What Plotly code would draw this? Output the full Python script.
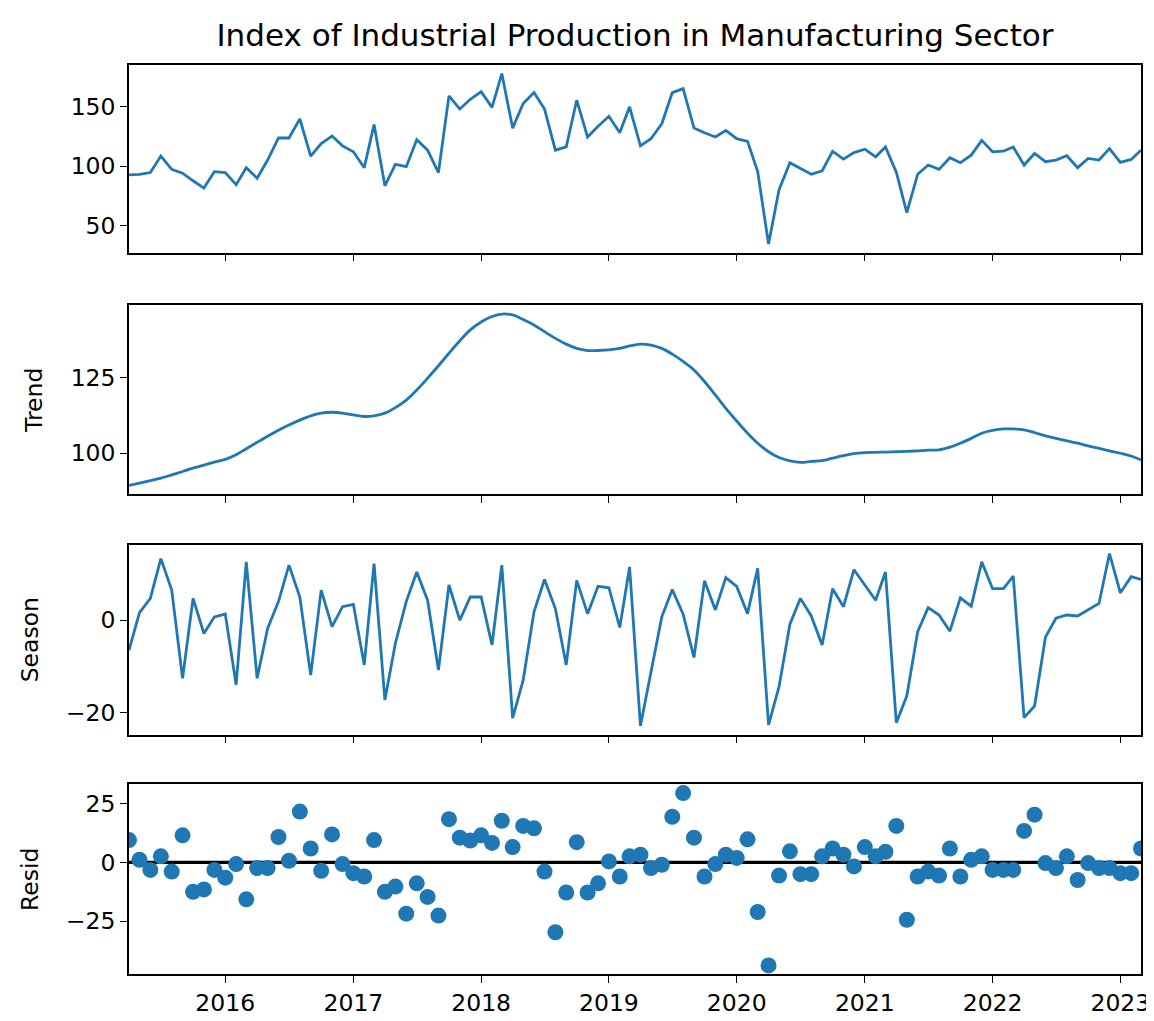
import pandas as pd
import numpy as np
import plotly.graph_objects as go

# ---- data (monthly, Apr 2015 .. Mar 2023) ----
start_month = "2015-04-01"
n_months = 96
dates = pd.date_range(start_month, periods=n_months, freq="MS")

observed = [92.5, 93, 94.5, 108.3, 97.2, 94, 87.6, 81.5, 95.3, 94.5, 84.3, 98.6, 89.8, 105, 123.5, 123.5,
            139.5, 108.3, 118.8, 125.1, 116.9, 111.9, 98.6, 134.8, 83.4,
            101.4, 99.4, 122.1, 113.3, 94.5, 158.8, 147.8, 156, 162.4, 149.2, 177.6, 131.8, 152.5, 161.6,
            147.8, 113.3, 116, 155.2, 124.3, 133.4, 141.7, 127.9, 149.7, 116.9, 122.9,
            135.4, 161.6, 164.9, 131.8, 127.9, 124.3, 129.8, 122.9, 120.7, 95.3, 34.5, 80.1, 102.8, 98.1,
            93.1, 95.9, 112.4, 105.8, 111.3, 114.1, 107.7, 116, 94.8, 60.8, 93.1,
            100.8, 97.2, 106.9, 102.8, 109.1, 121.5, 111.9, 112.4, 116, 100.8, 110.5, 103.6, 105, 108.6,
            98.6, 106.4, 105, 114.6, 103, 105.5, 113.3]

trend = [89.4, 90.2, 91.0, 91.8, 92.9, 94.0, 95.1, 96.1, 97.1, 98.0, 99.5, 101.5, 103.6, 105.6, 107.6,
         109.3, 110.9, 112.3, 113.2, 113.5, 113.2, 112.6, 112.1, 112.3, 113.2, 115.0, 117.5, 120.8,
         124.7, 128.8, 132.9, 137.0, 140.6, 143.2, 145.0, 145.8, 145.5, 144.0, 142.2, 140.0, 137.8,
         135.9, 134.5, 133.8, 133.8, 134.0, 134.5, 135.3, 135.9, 135.6, 134.5, 132.6, 130.2, 127.4,
         123.6, 119.2, 114.8, 110.6, 106.6, 103.3, 100.5, 98.6, 97.5, 97.0, 97.3, 97.6, 98.4, 99.2,
         99.9, 100.2, 100.3, 100.4, 100.5, 100.6, 100.8, 101.0, 101.1, 102.0, 103.3, 104.9, 106.6,
         107.5, 108.0, 108.0, 107.7, 106.8, 105.7, 104.9, 104.1, 103.3, 102.4, 101.6, 100.8, 100.0,
         99.1, 97.8]

season = [-6.5, 1.6, 4.7, 13.3, 6.5, -12.6, 4.7, -2.9, 0.7, 1.3, -14, 12.6, -12.6, -1.8, 4, 11.9, 5,
          -11.9, 6.5, -1.4, 2.9, 3.4, -9.7, 12.2, -17.3, -5, 4, 10.4, 4.3, -10.8, 7.6, 0, 5, 5, -5.4,
          11.9, -21.2, -13, 1.8, 8.8, 2.5, -9.7, 8.6, 1.4, 7.3, 7, -1.6, 11.5, -22.9, -11.2, 0.7, 6.6,
          1.3, -8.1, 8.5, 2.2, 9.2, 7.3, 1.4, 11.2, -22.7, -14.4, -0.9, 4.7, 0.9, -5.4, 6.8, 2.9, 10.9,
          7.6, 4.3, 10.4, -22.2, -16.4, -2.5, 2.7, 1.1, -2.4, 4.8, 3, 12.6, 6.8, 6.8, 9.5, -21.1, -18.6,
          -3.7, 0.4, 1.1, 0.9, 2.2, 3.6, 14.4, 5.9, 9.4, 8.8]

resid = [9.5, 1.1, -3.2, 2.6, -3.9, 11.5, -12.5, -11.5, -3.2, -6.5, -0.7, -15.7, -2.4, -2.4, 10.8, 0.7,
         21.6, 5.9, -3.6, 11.9, -0.7, -4.6, -6, 9.5, -12.5, -10.3, -21.8, -8.9, -14.7, -22.6, 18.4,
         10.5, 9.3, 11.5, 8.3, 17.7, 6.5, 15.5, 14.5, -3.9, -29.7, -12.8, 8.6, -12.8, -8.9, 0.4, -6,
         2.6, 3.3, -2.4, -1, 19.4, 29.5, 10.5, -6, -0.7, 3.3, 1.9, 9.8, -21.1, -43.8, -5.6, 4.7, -5,
         -5, 2.6, 5.9, 3.3, -1.7, 6.5, 2.6, 4.5, 15.5, -24.4, -6, -3.9, -5.6, 5.9, -6, 1.1, 2.6, -3.2,
         -3.2, -3.2, 13.4, 20.3, -0.3, -2.4, 2.6, -7.5, -0.3, -2.4, -2.4, -4.6, -4.6, 5.9]

year_ticks = ["2016", "2017", "2018", "2019", "2020", "2021", "2022", "2023"]
panel_labels = ["", "Trend", "Season", "Resid"]
panel_dticks = [50, 25, 20, 25]
title_text = "Index of Industrial Production in Manufacturing Sector"

# ---- styling ----
BLUE = "#1f77b4"
FONT = "DejaVu Sans"
TICK_SIZE = 23.5
TITLE_SIZE = 31
W, H = 1154, 1021
m_l, m_r, m_t, m_b = 121, 18, 57, 53
plot_h = H - m_t - m_b
# panel pixel extents (top, bottom) in figure pixels
panels_px = [(57, 245), (298, 487), (538, 728), (778, 968)]
domains = [[(H - m_b - b) / plot_h, (H - m_b - t) / plot_h] for (t, b) in panels_px]


def padded(vals):
    lo, hi = float(np.min(vals)), float(np.max(vals))
    pad = 0.05 * (hi - lo)
    return [lo - pad, hi + pad]


fig = go.Figure()
series = [observed, trend, season, resid]
for k, vals in enumerate(series):
    xa = "x" if k == 0 else f"x{k+1}"
    ya = "y" if k == 0 else f"y{k+1}"
    if k < 3:
        shape = "spline" if k == 1 else "linear"
        fig.add_trace(go.Scatter(x=dates, y=vals, mode="lines",
                                 line=dict(color=BLUE, width=2.8, shape=shape),
                                 xaxis=xa, yaxis=ya, showlegend=False))
    else:
        fig.add_trace(go.Scatter(x=[dates[0], dates[-1]], y=[0, 0], mode="lines",
                                 line=dict(color="black", width=3.2),
                                 xaxis=xa, yaxis=ya, showlegend=False))
        fig.add_trace(go.Scatter(x=dates, y=vals, mode="markers",
                                 marker=dict(color=BLUE, size=16, line=dict(width=0)),
                                 xaxis=xa, yaxis=ya, showlegend=False))

tickvals = [pd.Timestamp(f"{y}-01-01") for y in year_ticks]
layout = dict(
    width=W, height=H,
    margin=dict(l=m_l, r=m_r, t=m_t, b=m_b),
    paper_bgcolor="white", plot_bgcolor="white",
    font=dict(family=FONT, size=TICK_SIZE, color="black"),
    title=dict(text=title_text, x=0.5, xref="paper", xanchor="center",
               y=1 - 27 / H, yref="container", yanchor="middle",
               font=dict(family=FONT, size=TITLE_SIZE, color="black")),
)
for k in range(4):
    xkey = "xaxis" if k == 0 else f"xaxis{k+1}"
    ykey = "yaxis" if k == 0 else f"yaxis{k+1}"
    layout[xkey] = dict(
        type="date", range=[dates[0], dates[-1]], domain=[0, 1],
        anchor="y" if k == 0 else f"y{k+1}",
        tickvals=tickvals, ticktext=year_ticks, showticklabels=(k == 3),
        ticks="outside", ticklen=7, tickwidth=1.4, tickcolor="black",
        showline=True, linecolor="black", linewidth=1.6, mirror=True,
        showgrid=False, zeroline=False,
        tickfont=dict(family=FONT, size=TICK_SIZE, color="black"),
    )
    layout[ykey] = dict(
        range=padded(series[k]), domain=domains[k],
        anchor="x" if k == 0 else f"x{k+1}",
        dtick=panel_dticks[k], tick0=0,
        ticks="outside", ticklen=7, tickwidth=1.4, tickcolor="black",
        showline=True, linecolor="black", linewidth=1.6, mirror=True,
        showgrid=False, zeroline=False,
        tickfont=dict(family=FONT, size=TICK_SIZE, color="black"),
        title=dict(text=panel_labels[k], standoff=21,
                   font=dict(family=FONT, size=TICK_SIZE, color="black")),
    )
fig.update_layout(**layout)

fig.write_html("out.html")
